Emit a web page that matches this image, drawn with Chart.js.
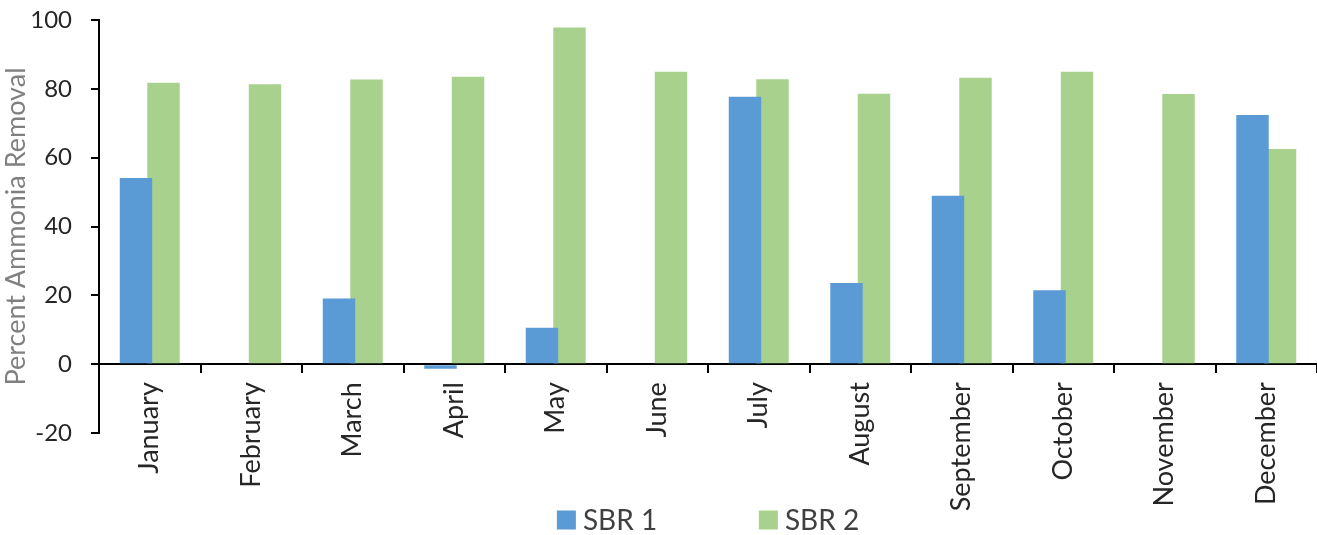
<!DOCTYPE html>
<html>
<head>
<meta charset="utf-8">
<script src="https://cdn.jsdelivr.net/npm/chart.js@4"></script>
<style>
  html, body { margin: 0; padding: 0; background: #ffffff; }
  #wrap { width: 1317px; height: 535px; position: relative; }
</style>
</head>
<body>
<div id="wrap"><canvas id="c" width="1317" height="535"></canvas></div>
<script>
const months = ["January", "February", "March", "April", "May", "June", "July", "August", "September", "October", "November", "December"];
const sbr1 = [54.1, null, 19.1, -1.3, 10.6, null, 77.7, 23.6, 48.9, 21.5, null, 72.4];
const sbr2 = [81.8, 81.3, 82.7, 83.5, 97.8, 85.0, 82.8, 78.6, 83.2, 85.0, 78.5, 62.5];
const seriesNames = ["SBR 1", "SBR 2"];
const seriesColors = ["#5b9bd5", "#a9d18e"];
const yTicks = [-20, 0, 20, 40, 60, 80, 100];
const yTitle = "Percent Ammonia Removal";

const FONT = "Lato, 'Open Sans', sans-serif";

const customLegend = {
  id: 'customLegend',
  afterDraw(chart) {
    const ctx = chart.ctx;
    const area = chart.chartArea;
    ctx.save();
    ctx.font = "28px " + FONT;
    ctx.textBaseline = 'middle';
    ctx.textAlign = 'left';
    const box = 19, gap = 7, stride = 202;
    const items = chart.data.datasets.map(d => ({ text: d.label, color: d.backgroundColor }));
    const lastW = box + gap + ctx.measureText(items[items.length - 1].text).width;
    const total = stride * (items.length - 1) + lastW;
    let x = (area.left + area.right) / 2 - total / 2;
    const cy = 520;
    items.forEach(it => {
      ctx.fillStyle = it.color;
      ctx.fillRect(x, cy - box / 2, box, box);
      ctx.fillStyle = '#404040';
      ctx.fillText(it.text, x + box + gap, cy + 1);
      x += stride;
    });
    ctx.restore();
  }
};

new Chart(document.getElementById('c'), {
  type: 'bar',
  data: {
    labels: months,
    datasets: [
      { label: seriesNames[0], data: sbr1, backgroundColor: seriesColors[0], categoryPercentage: 0.542, barPercentage: 1.18 },
      { label: seriesNames[1], data: sbr2, backgroundColor: seriesColors[1], categoryPercentage: 0.542, barPercentage: 1.18 }
    ]
  },
  options: {
    responsive: false,
    animation: false,
    layout: { padding: { top: 20, right: 0, bottom: 102, left: 0 } },
    plugins: {
      legend: { display: false },
      tooltip: { enabled: false }
    },
    scales: {
      x: {
        position: { y: 0 },
        offset: true,
        grid: { offset: true, drawOnChartArea: false, drawTicks: true, tickLength: 8, color: '#000', lineWidth: 2 },
        border: { display: true, color: '#000', width: 2 },
        ticks: {
          minRotation: 90, maxRotation: 90, autoSkip: false, padding: 10,
          color: '#262626', font: { family: FONT, size: 27 }
        }
      },
      y: {
        min: -20, max: 100,
        afterBuildTicks(scale) { scale.ticks = yTicks.map(v => ({ value: v })); },
        afterFit(scale) { scale.width = 99; scale.paddingTop = 0; scale.paddingBottom = 0; },
        grid: { drawOnChartArea: false, drawTicks: true, tickLength: 8, color: '#000', lineWidth: 2 },
        border: { display: true, color: '#000', width: 2 },
        ticks: { padding: 19, color: '#262626', font: { family: FONT, size: 24 } },
        title: {
          display: true, text: yTitle, color: '#808080',
          font: { family: FONT, size: 27 }, padding: { top: 0, bottom: 0 }
        }
      }
    }
  },
  plugins: [customLegend]
});
</script>
</body>
</html>
